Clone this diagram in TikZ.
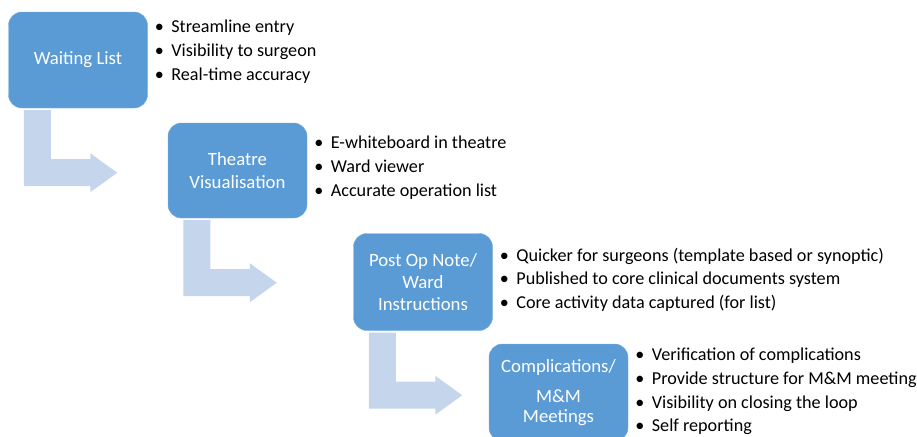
\documentclass[tikz,border=0pt]{standalone}
\usepackage{fontspec}
\setmainfont{Carlito}
\usetikzlibrary{positioning}
\definecolor{boxblue}{HTML}{5B9BD5}
\definecolor{arrowblue}{HTML}{C5D6EC}
\newcommand{\bl}{\makebox[14pt][l]{\textbullet}}

\begin{document}
\begin{tikzpicture}[x=0.03cm, y=-0.03cm]
    \tikzstyle{stage}=[rectangle, fill=boxblue, draw=boxblue!80, rounded corners=0.4cm, text=white, align=center, inner sep=0pt, minimum width=139*0.03cm, font=\fontsize{16}{19}\selectfont]
    \tikzstyle{notes}=[anchor=west, align=left, inner sep=0pt, font=\fontsize{15.5}{20.2}\selectfont]
    \tikzstyle{flow}=[fill=arrowblue]

    \useasboundingbox (0,0) rectangle (917,436);

    % Draw the stage boxes
    \node[stage, minimum height=96*0.03cm] (wait) at (78,60) {Waiting List};
    \node[stage, minimum height=95*0.03cm] (theatre) at (237.5,170.5) {Theatre\\Visualisation};
    \node[stage, minimum height=97*0.03cm] (postop) at (423,282) {Post Op Note/\\Ward\\Instructions};
    \node[stage, minimum height=97*0.03cm, font=\fontsize{16}{17.5}\selectfont] (mm) at (558.5,392.5) {Complications/\\[8pt]M\&M\\Meetings};

    % Bent arrows from one stage down to the next
    \foreach \b in {wait, theatre, postop}
        \fill[flow, shift={(\b.south west)}] (15.5,2) -- (42.5,2) -- (42.5,51) -- (82,51) -- (82,45)
            -- (109,64.5) -- (82,84) -- (82,78) -- (15.5,78) -- cycle;

    % Notes beside every stage
    \node[notes, right=7*0.03cm of wait.east, yshift=8.5*0.03cm] (wait-notes)
        {\bl Streamline entry\\ \bl Visibility to surgeon\\ \bl Real-time accuracy};
    \node[notes, right=7*0.03cm of theatre.east, yshift=3*0.03cm] (theatre-notes)
        {\bl E-whiteboard in theatre\\ \bl Ward viewer\\ \bl Accurate operation list};
    \node[notes, right=7*0.03cm of postop.east, yshift=2.5*0.03cm] (postop-notes)
        {\bl Quicker for surgeons (template based or synoptic)\\ \bl Published to core clinical documents system\\ \bl Core activity data captured (for list)};
    \node[notes, right=7*0.03cm of mm.east, yshift=1*0.03cm] (mm-notes)
        {\bl Verification of complications\\ \bl Provide structure for M\&M meeting\\ \bl Visibility on closing the loop\\ \bl Self reporting};
\end{tikzpicture}
\end{document}
